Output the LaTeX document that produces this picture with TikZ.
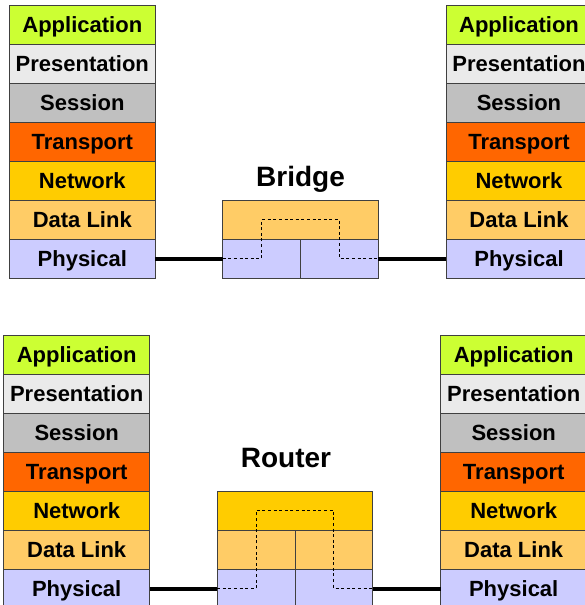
\documentclass[tikz,border=0pt]{standalone}
\usepackage{fontspec}
\setmainfont{Liberation Sans}
\usetikzlibrary{positioning}
\definecolor{appcol}{HTML}{CCFF33}
\definecolor{prescol}{HTML}{EAEAEA}
\definecolor{sesscol}{HTML}{C0C0C0}
\definecolor{transcol}{HTML}{FF6600}
\definecolor{netcol}{HTML}{FFCC00}
\definecolor{linkcol}{HTML}{FFCC66}
\definecolor{physcol}{HTML}{CCCCFF}

\begin{document}
\begin{tikzpicture}[
  x=1pt, y=-1pt,
  layer/.style={draw=black!75, line width=0.8pt, minimum width=146pt, minimum height=39pt,
    inner sep=0pt, outer sep=0pt, text height=17pt, text depth=1.2pt,
    font=\fontsize{22}{24}\selectfont\bfseries},
  cell/.style={minimum width=77.8pt},
  wide/.style={minimum width=155.6pt},
  app/.style={layer, fill=appcol},
  pres/.style={layer, fill=prescol},
  sess/.style={layer, fill=sesscol},
  trans/.style={layer, fill=transcol},
  net/.style={layer, fill=netcol},
  dlink/.style={layer, fill=linkcol},
  phys/.style={layer, fill=physcol},
  title/.style={font=\fontsize{28}{30}\selectfont\bfseries, inner sep=0pt, anchor=base},
  wire/.style={line width=4pt},
  route/.style={line width=1pt, dash pattern=on 3pt off 2.6pt}
]
\clip (0,0) rectangle (585,605);

% top left host
\node[app] (aapp) at (82.3,24.5) {Application};
\node[pres, below=0pt of aapp] (apres) {Presentation};
\node[sess, below=0pt of apres] (asess) {Session};
\node[trans, below=0pt of asess] (atrans) {Transport};
\node[net, below=0pt of atrans] (anet) {Network};
\node[dlink, below=0pt of anet] (alink) {Data Link};
\node[phys, below=0pt of alink] (aphys) {Physical};

% top right host
\node[app] (bapp) at (519,24.5) {Application};
\node[pres, below=0pt of bapp] (bpres) {Presentation};
\node[sess, below=0pt of bpres] (bsess) {Session};
\node[trans, below=0pt of bsess] (btrans) {Transport};
\node[net, below=0pt of btrans] (bnet) {Network};
\node[dlink, below=0pt of bnet] (blink) {Data Link};
\node[phys, below=0pt of blink] (bphys) {Physical};

% bridge
\node[dlink, wide] (brlink) at (300.5,219.5) {};
\node[phys, cell, below left=0pt and 0pt of brlink.south] (brphysl) {};
\node[phys, cell, below right=0pt and 0pt of brlink.south] (brphysr) {};
\node[title] (bridge) at ([yshift=14pt]brlink.north) {Bridge};

\draw[wire] (aphys.east) -- (brphysl.west);
\draw[wire] (brphysr.east) -- (bphys.west);
\draw[route] (brphysl.west) -- (brphysl.center) -- (brphysl.center |- brlink.center)
  -- (brphysr.center |- brlink.center) -- (brphysr.center) -- (brphysr.east);

% bottom left host
\node[app] (capp) at (76.7,354.5) {Application};
\node[pres, below=0pt of capp] (cpres) {Presentation};
\node[sess, below=0pt of cpres] (csess) {Session};
\node[trans, below=0pt of csess] (ctrans) {Transport};
\node[net, below=0pt of ctrans] (cnet) {Network};
\node[dlink, below=0pt of cnet] (clink) {Data Link};
\node[phys, below=0pt of clink] (cphys) {Physical};

% bottom right host
\node[app] (dapp) at (513.7,354.5) {Application};
\node[pres, below=0pt of dapp] (dpres) {Presentation};
\node[sess, below=0pt of dpres] (dsess) {Session};
\node[trans, below=0pt of dsess] (dtrans) {Transport};
\node[net, below=0pt of dtrans] (dnet) {Network};
\node[dlink, below=0pt of dnet] (dlink) {Data Link};
\node[phys, below=0pt of dlink] (dphys) {Physical};

% router
\node[net, wide] (rtnet) at (295,510.5) {};
\node[dlink, cell, below left=0pt and 0pt of rtnet.south] (rtlinkl) {};
\node[dlink, cell, below right=0pt and 0pt of rtnet.south] (rtlinkr) {};
\node[phys, cell, below=0pt of rtlinkl] (rtphysl) {};
\node[phys, cell, below=0pt of rtlinkr] (rtphysr) {};
\node[title] (router) at ([xshift=-9pt, yshift=24pt]rtnet.north) {Router};

\draw[wire] (cphys.east) -- (rtphysl.west);
\draw[wire] (rtphysr.east) -- (dphys.west);
\draw[route] (rtphysl.west) -- (rtphysl.center) -- (rtphysl.center |- rtnet.center)
  -- (rtphysr.center |- rtnet.center) -- (rtphysr.center) -- (rtphysr.east);
\end{tikzpicture}
\end{document}
